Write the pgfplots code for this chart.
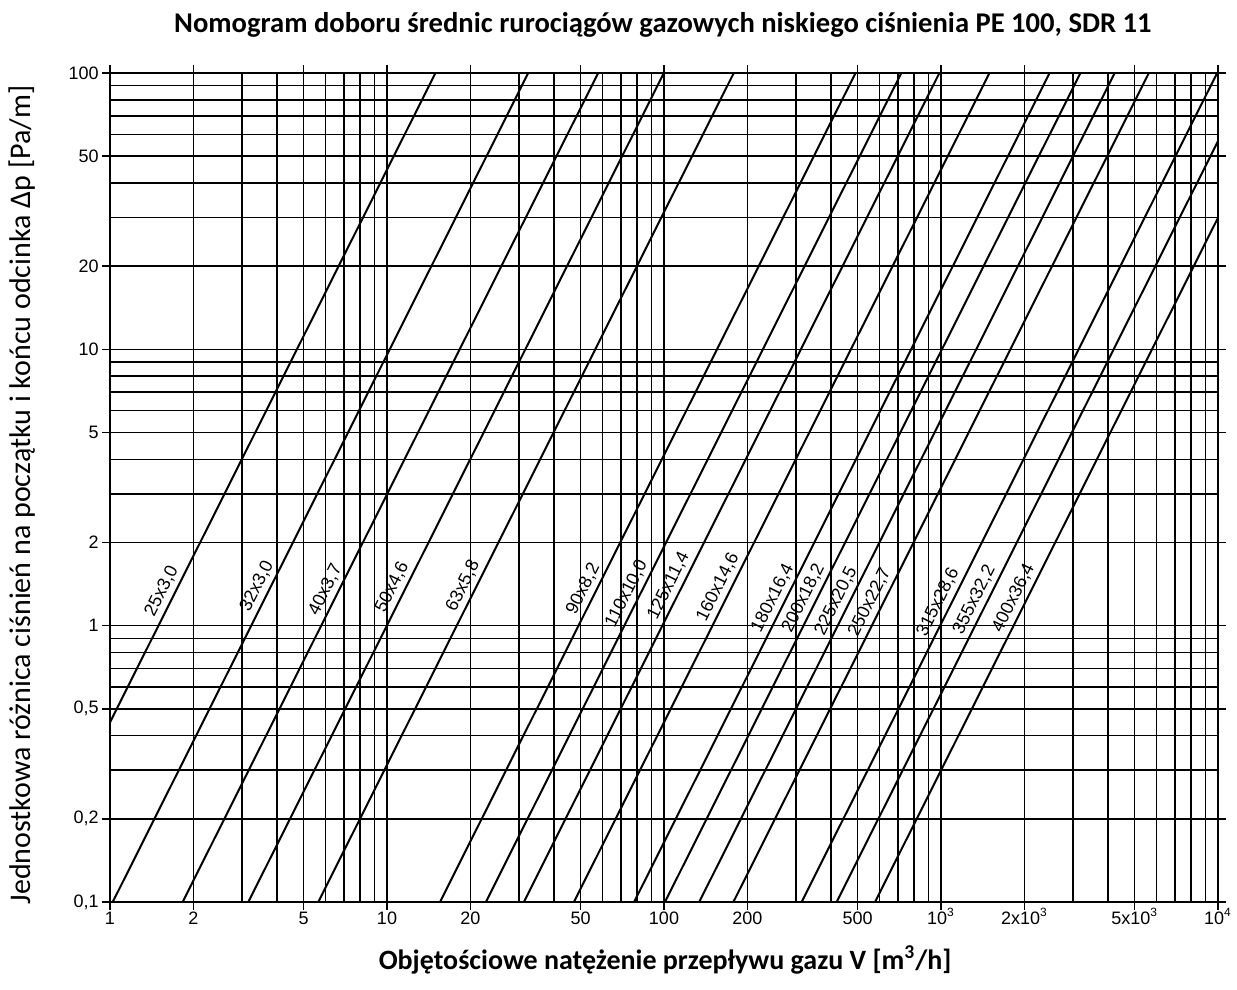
\documentclass[border=0pt]{standalone}
\usepackage{pgfplots}
\pgfplotsset{compat=1.18}
\usepackage{fontspec}
\setmainfont{Liberation Sans}
\newfontfamily\calibri{Carlito}
\tikzset{lbl/.style={sloped, anchor=south, inner sep=2pt, font=\fontsize{9}{10}\selectfont},
  pipe/.style={black, solid, line width=1pt, mark=none}}
\begin{document}
\begin{tikzpicture}
\begin{axis}[
  scale only axis, width=554pt, height=414.5pt,
  xmode=log, ymode=log,
  xmin=1, xmax=10000, ymin=0.1, ymax=100,
  xtick={1,2,5,10,20,50,100,200,500,1000,2000,5000,10000},
  xticklabels={1,2,5,10,20,50,100,200,500,10\textsuperscript{3},2x10\textsuperscript{3},5x10\textsuperscript{3},10\textsuperscript{4}},
  minor xtick={3,4,6,7,8,9,30,40,60,70,80,90,300,400,600,700,800,900,3000,4000,6000,7000,8000,9000},
  ytick={0.1,0.2,0.5,1,2,5,10,20,50,100},
  yticklabels={{0,1},{0,2},{0,5},1,2,5,10,20,50,100},
  minor ytick={0.3,0.4,0.6,0.7,0.8,0.9,3,4,6,7,8,9,30,40,60,70,80,90},
  grid=both,
  major grid style={black, line width=0.75pt},
  minor grid style={black, line width=0.75pt},
  axis line style={black, line width=0.9pt},
  tick align=outside,
  major tick length=4pt, minor tick length=0pt,
  tick style={black, line width=0.7pt},
  tick label style={font=\fontsize{9}{10}\selectfont, inner sep=1.5pt},
  xticklabel style={text height=8pt, text depth=0pt, yshift=2.5pt},
  title={Nomogram doboru średnic rurociągów gazowych niskiego ciśnienia PE 100, SDR 11},
  title style={at={(axis description cs:0.499,1.0579)}, anchor=center, yshift=-6pt, font=\calibri\bfseries\fontsize{14.3}{16}\selectfont},
  xlabel={Objętościowe natężenie przepływu gazu V [m\textsuperscript{3}/h]},
  xlabel style={at={(axis description cs:0.501,-0.070)}, anchor=center, font=\calibri\bfseries\fontsize{14}{16}\selectfont},
  ylabel={Jednostkowa różnica ciśnień na początku i końcu odcinka Δp [Pa/m]},
  ylabel style={at={(axis description cs:-0.0794,0.491)}, anchor=center, font=\calibri\fontsize{15}{17}\selectfont},
]
\addplot[pipe] coordinates {(0.473,0.1) (14.96,100)} node[lbl, pos=0.368] {25x3,0};
\addplot[pipe] coordinates {(1.023,0.1) (32.35,100)} node[lbl, pos=0.374] {32x3,0};
\addplot[pipe] coordinates {(1.830,0.1) (57.87,100)} node[lbl, pos=0.370] {40x3,7};
\addplot[pipe] coordinates {(3.158,0.1) (99.87,100)} node[lbl, pos=0.373] {50x4,6};
\addplot[pipe] coordinates {(5.649,0.1) (178.6,100)} node[lbl, pos=0.375] {63x5,8};
\addplot[pipe] coordinates {(15.54,0.1) (491.4,100)} node[lbl, pos=0.371] {90x8,2};
\addplot[pipe] coordinates {(22.75,0.1) (719.4,100)} node[lbl, pos=0.365] {110x10,0};
\addplot[pipe] coordinates {(31.2,0.1) (986.6,100)} node[lbl, pos=0.375] {125x11,4};
\addplot[pipe] coordinates {(47.3,0.1) (1495.8,100)} node[lbl, pos=0.373] {160x14,6};
\addplot[pipe] coordinates {(78,0.1) (2466.6,100)} node[lbl, pos=0.360] {180x16,4};
\addplot[pipe] coordinates {(100.8,0.1) (3187.6,100)} node[lbl, pos=0.360] {200x18,2};
\addplot[pipe] coordinates {(134,0.1) (4237.5,100)} node[lbl, pos=0.356] {225x20,5};
\addplot[pipe] coordinates {(178,0.1) (5628.9,100)} node[lbl, pos=0.355] {250x22,7};
\addplot[pipe] coordinates {(314,0.1) (9929.6,100)} node[lbl, pos=0.355] {315x28,6};
\addplot[pipe] coordinates {(420,0.1) (13281.7,100)} node[lbl, pos=0.358] {355x32,2};
\addplot[pipe] coordinates {(578,0.1) (18278,100)} node[lbl, pos=0.360] {400x36,4};
\end{axis}
\pgfresetboundingbox
\useasboundingbox (-55pt,-44pt) rectangle (563.5pt,451pt);
\end{tikzpicture}
\end{document}
